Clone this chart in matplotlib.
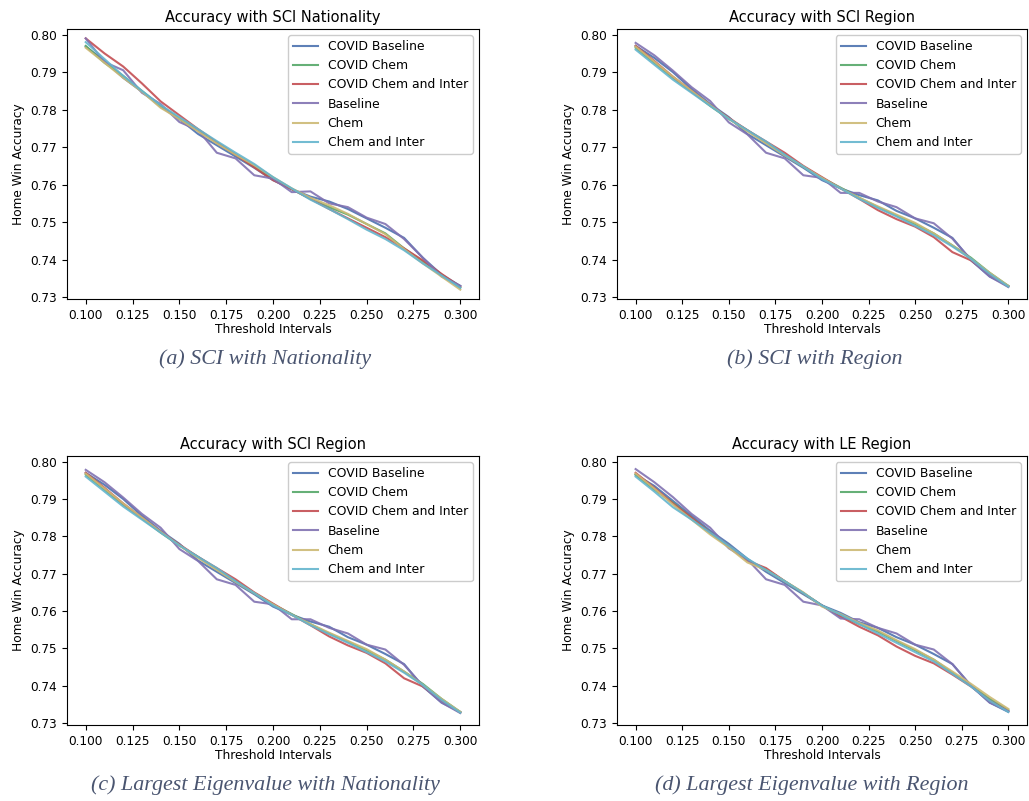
import numpy as np
import matplotlib
matplotlib.use("Agg")
import matplotlib.pyplot as plt

thresholds = [0.10, 0.11, 0.12, 0.13, 0.14, 0.15, 0.16, 0.17, 0.18, 0.19, 0.20,
              0.21, 0.22, 0.23, 0.24, 0.25, 0.26, 0.27, 0.28, 0.29, 0.30]
labels = ["COVID Baseline", "COVID Chem", "COVID Chem and Inter", "Baseline", "Chem", "Chem and Inter"]
colors = ["#4C72B0", "#55A868", "#C44E52", "#8172B2", "#CCB974", "#64B5CD"]

# (a) SCI with Nationality
sci_nat_covid_base = [0.7968, 0.793, 0.7885, 0.7848, 0.7808, 0.7775, 0.7735, 0.7705, 0.7675, 0.7645, 0.7612,
                      0.7588, 0.7568, 0.7555, 0.7535, 0.751, 0.7485, 0.7458, 0.7405, 0.736, 0.733]
sci_nat_covid_chem = [0.797, 0.7925, 0.789, 0.785, 0.781, 0.7776, 0.7745, 0.7712, 0.768, 0.7648, 0.7615,
                      0.7588, 0.7562, 0.754, 0.752, 0.7495, 0.747, 0.743, 0.7395, 0.736, 0.7325]
sci_nat_covid_inter = [0.799, 0.795, 0.7915, 0.787, 0.7822, 0.7785, 0.7748, 0.7713, 0.768, 0.7646, 0.7612,
                       0.7588, 0.7562, 0.7535, 0.751, 0.7485, 0.746, 0.743, 0.7398, 0.7362, 0.7328]
sci_nat_base = [0.799, 0.7927, 0.7905, 0.7845, 0.7815, 0.7767, 0.7745, 0.7685, 0.767, 0.7625, 0.7616,
                0.758, 0.7582, 0.755, 0.754, 0.7512, 0.7495, 0.7455, 0.7405, 0.7355, 0.733]
sci_nat_chem = [0.7965, 0.7925, 0.7885, 0.7848, 0.7805, 0.7775, 0.7742, 0.771, 0.768, 0.7652, 0.762,
                0.759, 0.7565, 0.7545, 0.7522, 0.7495, 0.7468, 0.7428, 0.739, 0.7355, 0.732]
sci_nat_inter = [0.798, 0.7935, 0.789, 0.785, 0.7812, 0.778, 0.7748, 0.7716, 0.7685, 0.7655, 0.762,
                 0.759, 0.756, 0.7535, 0.7508, 0.748, 0.7455, 0.7425, 0.739, 0.7358, 0.7325]

# (b) / (c) SCI with Region
sci_reg_covid_base = [0.797, 0.7938, 0.790, 0.7855, 0.7815, 0.778, 0.7735, 0.7705, 0.7675, 0.7645, 0.7612,
                      0.759, 0.7572, 0.7558, 0.753, 0.751, 0.7485, 0.7458, 0.7398, 0.7355, 0.733]
sci_reg_covid_chem = [0.7965, 0.7925, 0.7885, 0.7848, 0.781, 0.7775, 0.7745, 0.7712, 0.768, 0.7648, 0.7618,
                      0.7592, 0.7565, 0.754, 0.7518, 0.7495, 0.747, 0.7438, 0.7405, 0.7365, 0.733]
sci_reg_covid_inter = [0.797, 0.793, 0.7888, 0.785, 0.7812, 0.7778, 0.7745, 0.7715, 0.7685, 0.765, 0.762,
                       0.759, 0.7562, 0.7532, 0.7508, 0.7488, 0.746, 0.742, 0.7398, 0.736, 0.7328]
sci_reg_base = [0.7978, 0.7945, 0.7904, 0.786, 0.7823, 0.7766, 0.7734, 0.7685, 0.767, 0.7625, 0.7618,
                0.7578, 0.7578, 0.7555, 0.754, 0.751, 0.7497, 0.7456, 0.740, 0.7355, 0.7327]
sci_reg_chem = [0.7968, 0.7928, 0.7888, 0.785, 0.7812, 0.7776, 0.7742, 0.771, 0.7678, 0.7648, 0.7618,
                0.759, 0.7565, 0.7542, 0.752, 0.7498, 0.747, 0.7438, 0.7402, 0.7365, 0.733]
sci_reg_inter = [0.796, 0.792, 0.788, 0.7845, 0.781, 0.7776, 0.7745, 0.7715, 0.768, 0.7648, 0.7615,
                 0.759, 0.7562, 0.7538, 0.7515, 0.749, 0.7465, 0.7435, 0.7402, 0.7362, 0.7328]

# (d) LE with Region
le_reg_covid_base = [0.7965, 0.7935, 0.7895, 0.7855, 0.7815, 0.778, 0.774, 0.7705, 0.7675, 0.7645, 0.7615,
                     0.7595, 0.757, 0.7555, 0.753, 0.751, 0.7485, 0.7458, 0.740, 0.7355, 0.733]
le_reg_covid_chem = [0.7965, 0.7925, 0.789, 0.785, 0.781, 0.7772, 0.7735, 0.7712, 0.768, 0.7648, 0.7615,
                     0.7588, 0.7565, 0.7545, 0.752, 0.7495, 0.747, 0.7435, 0.740, 0.7365, 0.7335]
le_reg_covid_inter = [0.797, 0.793, 0.7888, 0.785, 0.781, 0.7775, 0.7735, 0.7715, 0.768, 0.7648, 0.7615,
                      0.7585, 0.7558, 0.7535, 0.7505, 0.748, 0.746, 0.743, 0.7398, 0.736, 0.7332]
le_reg_base = [0.798, 0.7945, 0.7905, 0.786, 0.7823, 0.7768, 0.7738, 0.7685, 0.767, 0.7625, 0.7615,
               0.758, 0.7578, 0.7555, 0.754, 0.751, 0.7497, 0.7458, 0.740, 0.7355, 0.7332]
le_reg_chem = [0.7968, 0.7928, 0.7885, 0.7845, 0.7805, 0.777, 0.773, 0.771, 0.768, 0.765, 0.7612,
               0.7592, 0.7568, 0.7548, 0.7522, 0.7498, 0.747, 0.7438, 0.7405, 0.737, 0.7338]
le_reg_inter = [0.796, 0.792, 0.7878, 0.7845, 0.781, 0.7775, 0.774, 0.771, 0.768, 0.7648, 0.7615,
                0.759, 0.7565, 0.754, 0.7515, 0.749, 0.7465, 0.7432, 0.7398, 0.736, 0.733]

panels = [
    ("Accuracy with SCI Nationality", "(a) SCI with Nationality",
     [sci_nat_covid_base, sci_nat_covid_chem, sci_nat_covid_inter, sci_nat_base, sci_nat_chem, sci_nat_inter],
     [0.0651, 0.6267, 0.4004, 0.3371], (0.2575, 0.552)),
    ("Accuracy with SCI Region", "(b) SCI with Region",
     [sci_reg_covid_base, sci_reg_covid_chem, sci_reg_covid_inter, sci_reg_base, sci_reg_chem, sci_reg_inter],
     [0.5996, 0.6267, 0.3984, 0.3371], (0.792, 0.552)),
    ("Accuracy with SCI Region", "(c) Largest Eigenvalue with Nationality",
     [sci_reg_covid_base, sci_reg_covid_chem, sci_reg_covid_inter, sci_reg_base, sci_reg_chem, sci_reg_inter],
     [0.0651, 0.0949, 0.4004, 0.3358], (0.2575, 0.02)),
    ("Accuracy with LE Region", "(d) Largest Eigenvalue with Region",
     [le_reg_covid_base, le_reg_covid_chem, le_reg_covid_inter, le_reg_base, le_reg_chem, le_reg_inter],
     [0.5996, 0.0949, 0.3984, 0.3358], (0.789, 0.02)),
]

fig = plt.figure(figsize=(10.29, 8.01), dpi=100)

for title, caption, series, rect, cap_pos in panels:
    ax = fig.add_axes(rect)
    for vals, lab, col in zip(series, labels, colors):
        ax.plot(thresholds, vals, color=col, lw=1.5, alpha=0.9, label=lab)
    ax.set_title(title, fontsize=10.5, pad=5)
    ax.set_xlabel("Threshold Intervals", fontsize=8.7, labelpad=1)
    ax.set_ylabel("Home Win Accuracy", fontsize=8.7)
    ax.set_xticks(np.arange(0.100, 0.301, 0.025))
    ax.set_yticks(np.arange(0.73, 0.801, 0.01))
    ax.xaxis.set_major_formatter(matplotlib.ticker.FormatStrFormatter("%.3f"))
    ax.yaxis.set_major_formatter(matplotlib.ticker.FormatStrFormatter("%.2f"))
    ax.tick_params(labelsize=8.7)
    ax.set_ylim(0.7295, 0.8015)
    ax.legend(loc="upper right", fontsize=8.9, framealpha=1, edgecolor="#cccccc")
    fig.text(cap_pos[0], cap_pos[1], caption, ha="center", va="center",
             family="Liberation Serif", style="italic", fontsize=15.8, color="#4a5570")

fig.savefig("out.png", dpi=100)
